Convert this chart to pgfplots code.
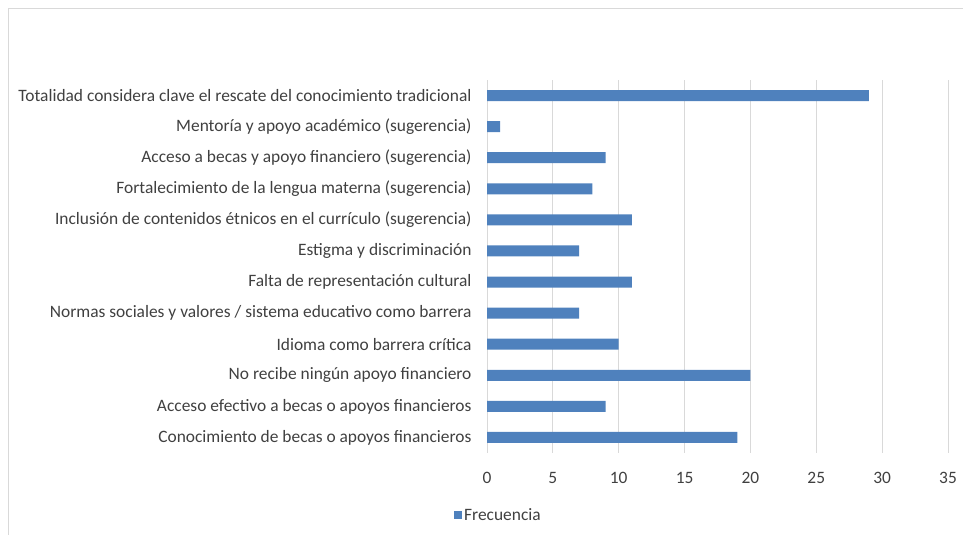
\documentclass[border=0pt]{standalone}
\usepackage{pgfplots}
\pgfplotsset{compat=1.18}
\usepackage{fontspec}
\setmainfont{Carlito}

\definecolor{barblue}{RGB}{79,129,189}
\definecolor{gridgray}{RGB}{217,217,217}
\definecolor{txtgray}{RGB}{64,64,64}

\begin{document}
\begin{tikzpicture}[x=1pt,y=1pt]
\useasboundingbox (0,0) rectangle (963,535);
\draw[gridgray, line width=1.2pt] (8.5,-5) -- (8.5,526.5) -- (975,526.5);
\begin{axis}[
  at={(487pt,82pt)}, anchor=south west,
  scale only axis, width=461pt, height=373pt,
  xmin=0, xmax=35, ymin=-0.5, ymax=11.5,
  xbar, bar width=11pt,
  xtick={0,5,...,35},
  ytick={0,...,11},
  yticklabels={
    Conocimiento de becas o apoyos financieros,
    Acceso efectivo a becas o apoyos financieros,
    No recibe ningún apoyo financiero,
    Idioma como barrera crítica,
    Normas sociales y valores / sistema educativo como barrera,
    Falta de representación cultural,
    Estigma y discriminación,
    Inclusión de contenidos étnicos en el currículo (sugerencia),
    Fortalecimiento de la lengua materna (sugerencia),
    Acceso a becas y apoyo financiero (sugerencia),
    Mentoría y apoyo académico (sugerencia),
    Totalidad considera clave el rescate del conocimiento tradicional},
  axis x line*=none,
  axis y line*=left,
  y axis line style={draw=gridgray, line width=1pt, -},
  x axis line style={draw=none},
  xmajorgrids, grid style={gridgray, line width=1pt},
  major tick length=0pt,
  tick style={draw=none},
  ticklabel style={font=\fontsize{17.4}{20}\selectfont, text=txtgray},
  xticklabel style={yshift=-16pt},
  yticklabel style={xshift=-12pt},
  /pgf/number format/assume math mode=true,
  legend style={at={(-0.078,-0.166)}, anchor=west, draw=none, fill=none,
    font=\fontsize{17.4}{20}\selectfont, text=txtgray},
  legend image code/.code={\fill[barblue] (0pt,-4pt) rectangle (8pt,4pt);},
]
\addplot[fill=barblue, draw=none] coordinates {
  (19,0) (9,1) (20,2) (10,3) (7,4) (11,5) (7,6) (11,7) (8,8) (9,9) (1,10) (29,11)
};
\addlegendentry{Frecuencia}
\end{axis}
\end{tikzpicture}
\end{document}
